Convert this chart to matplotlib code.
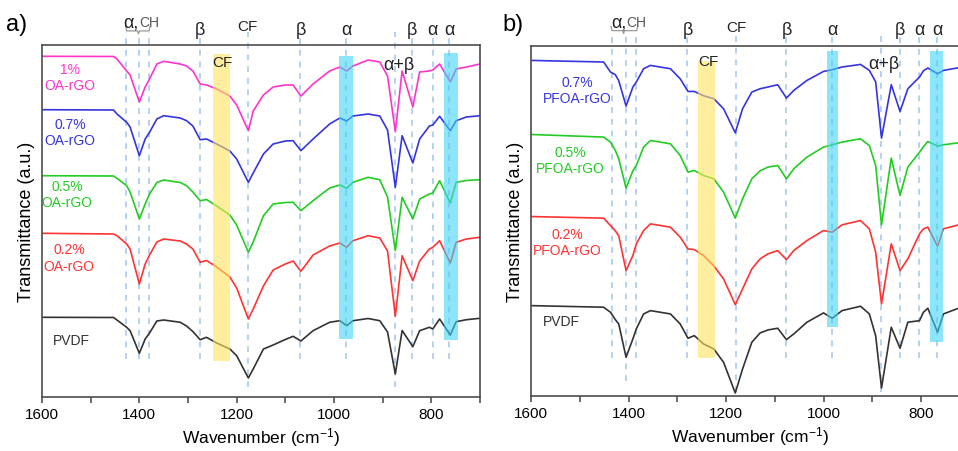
import matplotlib
matplotlib.use("Agg")
import matplotlib.pyplot as plt

plt.rcParams["font.family"] = ["Liberation Sans", "DejaVu Sans"]
plt.rcParams["mathtext.fontset"] = "custom"
plt.rcParams["mathtext.rm"] = "Liberation Sans"
plt.rcParams["mathtext.it"] = "Liberation Sans:italic"

# ---------- DATA (stacked a.u.) ----------
# panel a: PVDF + OA-rGO
WN_A = [1600, 1453, 1446, 1426, 1419, 1400, 1388, 1379, 1364, 1350,
        1316, 1303, 1290, 1275, 1262, 1241, 1214, 1200, 1176, 1166,
        1145, 1125, 1100, 1084, 1068, 1043, 1009, 988, 974, 961,
        930, 906, 890, 874, 860, 838, 824, 804, 797, 783,
        761, 749, 728, 700]
PVDF_A = [7.97, 7.95, 7.70, 6.97, 6.63, 4.37, 5.80, 6.40, 7.60, 7.70,
          7.47, 7.10, 6.55, 5.73, 5.97, 5.40, 4.80, 4.13, 1.90, 2.80,
          4.80, 5.20, 5.75, 6.07, 5.60, 6.63, 7.47, 7.63, 7.13, 7.63,
          7.85, 7.63, 6.50, 2.30, 6.65, 5.03, 6.63, 6.97, 6.80, 7.80,
          6.20, 7.53, 7.73, 7.87]
OA_02 = [16.37, 16.30, 16.13, 15.30, 14.80, 11.30, 13.30, 14.20, 15.50, 15.80,
         15.60, 15.30, 14.80, 13.47, 13.65, 13.00, 12.00, 10.90, 7.80, 8.80,
         11.10, 12.70, 13.30, 13.60, 12.57, 14.20, 15.10, 15.40, 14.97, 15.63,
         16.13, 15.90, 14.60, 8.07, 14.13, 11.63, 13.60, 14.80, 14.97, 15.63,
         13.40, 15.47, 15.80, 15.97]
OA_05 = [22.13, 22.10, 21.87, 21.13, 20.50, 17.80, 19.30, 20.30, 21.45, 21.70,
         21.45, 21.13, 20.50, 19.63, 19.75, 19.10, 18.20, 17.20, 14.47, 15.50,
         18.13, 19.30, 19.45, 19.47, 18.63, 19.63, 20.90, 21.20, 20.87, 21.47,
         21.97, 21.73, 20.00, 14.63, 19.97, 17.80, 19.80, 20.30, 20.40, 21.63,
         19.40, 21.47, 21.65, 21.73]
OA_07 = [28.73, 28.70, 28.30, 27.47, 27.00, 24.13, 25.80, 26.47, 27.80, 28.13,
         27.90, 27.63, 27.10, 25.73, 25.80, 25.30, 24.60, 23.80, 21.47, 22.40,
         24.30, 25.30, 25.60, 25.63, 24.63, 25.80, 27.30, 27.90, 27.60, 28.10,
         28.30, 28.10, 26.70, 20.97, 26.13, 23.40, 25.80, 27.10, 27.20, 28.07,
         26.63, 27.63, 28.00, 28.13]
OA_1 = [34.07, 34.05, 33.80, 32.60, 32.20, 29.50, 31.00, 31.80, 33.30, 33.57,
        33.30, 33.10, 32.60, 31.30, 31.20, 30.80, 30.10, 29.20, 26.63, 28.60,
        30.20, 31.00, 31.20, 31.20, 30.10, 31.30, 32.60, 33.00, 32.60, 33.10,
        33.70, 33.50, 32.10, 26.53, 32.60, 29.00, 32.50, 32.60, 32.70, 33.30,
        31.50, 32.80, 33.00, 33.30]

# panel b: PVDF + PFOA-rGO
WN_B = [1600, 1451, 1437, 1427, 1420, 1405, 1391, 1384, 1369, 1355,
        1314, 1294, 1278, 1265, 1246, 1225, 1205, 1181, 1166, 1147,
        1130, 1114, 1094, 1076, 1061, 1034, 1000, 982, 962, 924,
        906, 893, 881, 861, 843, 827, 803, 795, 786, 766,
        754, 723, 700]
PVDF_B = [9.03, 8.87, 8.37, 7.63, 7.20, 3.87, 5.70, 6.70, 8.20, 8.53,
          8.20, 7.20, 5.77, 6.03, 5.20, 4.70, 3.37, 0.30, 2.70, 5.37,
          6.30, 6.60, 6.77, 5.63, 6.20, 7.37, 8.30, 7.77, 8.53, 8.97,
          8.20, 6.03, 0.80, 6.87, 4.77, 7.37, 7.53, 8.37, 8.77, 6.37,
          8.20, 8.77, 8.90]
PFOA_02 = [17.93, 17.77, 17.03, 16.50, 16.00, 12.53, 14.03, 15.20, 16.53, 17.20,
           16.87, 15.87, 14.70, 14.63, 14.03, 13.00, 11.70, 9.13, 10.70, 12.70,
           13.70, 14.20, 14.53, 13.63, 14.53, 15.53, 16.53, 16.37, 17.10, 17.53,
           16.70, 14.37, 9.20, 15.20, 12.53, 13.70, 16.20, 16.70, 16.87, 14.97,
           16.70, 17.10, 17.20]
PFOA_05 = [26.13, 25.87, 25.37, 24.53, 23.70, 20.77, 22.50, 23.03, 24.87, 25.53,
           25.20, 24.03, 22.37, 22.53, 22.03, 21.70, 20.37, 17.77, 19.70, 21.70,
           22.50, 22.87, 23.03, 21.70, 22.70, 23.87, 24.87, 25.10, 25.37, 25.70,
           25.03, 23.03, 17.10, 23.77, 20.03, 22.87, 24.37, 24.90, 25.43, 24.97,
           25.10, 25.30, 25.35]
PFOA_07 = [33.53, 33.37, 32.37, 32.10, 31.50, 28.97, 30.87, 31.37, 32.70, 33.03,
           32.70, 31.70, 30.43, 30.43, 30.00, 29.70, 28.70, 26.30, 28.70, 30.37,
           30.70, 30.87, 31.10, 29.77, 30.53, 31.53, 32.43, 32.60, 32.87, 33.13,
           32.53, 31.40, 25.77, 31.10, 28.43, 30.70, 31.87, 32.50, 32.77, 32.20,
           32.53, 32.80, 32.85]

# band assignments
DASH_A = [1427, 1400, 1380, 1275, 1177, 1070, 975, 874, 840, 797, 763]
DASH_B = [1433, 1405, 1384, 1279, 1179, 1076, 982, 882, 844, 804, 767]
TOPS_A = [(1275, "β"), (1177, "CF"), (1068, "β"), (975, "α"), (840, "β"), (797, "α"), (763, "α")]
TOPS_B = [(1279, "β"), (1179, "CF"), (1076, "β"), (982, "α"), (844, "β"), (804, "α"), (767, "α")]

CURVE_COLORS = ["#333333", "#ff3333", "#22cc22", "#3535e0", "#ff33cc"]
DASH_COLOR = "#a9c8ee"
YELLOW = "#ffe45c"
CYAN = "#3fd4f5"
# ----------------------------------------------------------------

W, H = 958, 452
fig = plt.figure(figsize=(W / 100, H / 100), dpi=100)


def px_axes(left, top, right, bottom):
    return fig.add_axes([left / W, 1 - bottom / H, (right - left) / W, (bottom - top) / H])


def style_axes(ax, ymax):
    ax.set_xlim(1600, 700)
    ax.set_ylim(0, ymax)
    ax.set_xticks([1600, 1400, 1200, 1000, 800])
    ax.set_xticks([1500, 1300, 1100, 900, 700], minor=True)
    ax.set_yticks([])
    ax.tick_params(axis="x", which="major", direction="out", length=4, width=1.1,
                   color="#444444", labelsize=11, pad=3)
    ax.tick_params(axis="x", which="minor", direction="out", length=4, width=1.1, color="#444444")
    for s in ax.spines.values():
        s.set_color("#4d4d4d")
        s.set_linewidth(1.2)
    ax.set_xlabel(r"Wavenumber (cm$^{-1}$)", fontsize=12.5, labelpad=3)
    ax.set_ylabel("Transmittance (a.u.)", fontsize=13, labelpad=5)


def draw_panel(ax, wn, curves, labels, label_pos, dashes, long_dashes, tops,
               top_y, cf_y, bands, brace, brace_y, ach_x, ach_y, cf_xy, ab_xy):
    xt = ax.get_xaxis_transform()
    for x in dashes:
        y0 = long_dashes.get(x, 0.108)
        ax.plot([x, x], [y0, 1.037], transform=xt, clip_on=False, color=DASH_COLOR,
                lw=1.2, ls=(0, (3.5, 3.5)), zorder=1)
    for ys, c in zip(curves, CURVE_COLORS):
        ax.plot(wn, ys, color=c, lw=1.2, zorder=2)
    for (x0, x1, y0, y1, col) in bands:
        ax.axvspan(x0, x1, ymin=y0, ymax=y1, color=col, alpha=0.6, lw=0, zorder=3)
    for txt, (x, y), c in zip(labels, label_pos, CURVE_COLORS):
        ax.text(x, y, txt, color=c, fontsize=10, ha="center", va="center", zorder=4)
    for x, t in tops:
        ax.text(x, cf_y if t == "CF" else top_y, t, transform=xt, ha="center", va="center",
                fontsize=11 if t == "CF" else 13, color="#222222", clip_on=False)
    ax.text(ach_x, ach_y, "α,", transform=xt, ha="right", va="center", fontsize=13,
            color="#222222", clip_on=False)
    ax.text(ach_x, ach_y, "CH", transform=xt, ha="left", va="center", fontsize=10,
            color="#555555", clip_on=False)
    bl, bm, br = brace
    ax.plot([bl, bl - 2, bm + 2, bm, bm - 2, br + 2, br],
            [brace_y + 0.012, brace_y, brace_y, brace_y - 0.008, brace_y, brace_y, brace_y + 0.012],
            transform=xt, clip_on=False, color="#999999", lw=0.9)
    ax.text(cf_xy[0], cf_xy[1], "CF", fontsize=11, ha="center", va="center", color="#222222", zorder=5)
    ax.text(ab_xy[0], ab_xy[1], "α+β", fontsize=13, ha="center", va="center", color="#222222", zorder=5)


# panel a
ax1 = px_axes(42, 46, 480, 398)
style_axes(ax1, 35.2)
draw_panel(
    ax1, WN_A, [PVDF_A, OA_02, OA_05, OA_07, OA_1],
    ["PVDF", "0.2%\nOA-rGO", "0.5%\nOA-rGO", "0.7%\nOA-rGO", "1%\nOA-rGO"],
    [(1540, 5.7), (1544, 13.95), (1548, 20.33), (1542, 26.5), (1542, 32.0)],
    DASH_A, {1177: 0.028, 874: 0.028}, TOPS_A, 1.045, 1.055,
    [(1249, 1214, 0.102, 0.974, YELLOW), (990, 960, 0.165, 0.969, CYAN),
     (773, 745, 0.162, 0.977, CYAN)],
    (1428, 1402, 1378), 1.040, 1401, 1.066, (1230, 33.5), (867, 33.3))
fig.text(17 / W, 1 - 25 / H, "a)", fontsize=17, ha="center", va="center")

# panel b (right edge runs past the figure, as in the source)
ax2 = px_axes(531, 46.7, 531 + 438.75, 397)
style_axes(ax2, 35.0)
draw_panel(
    ax2, WN_B, [PVDF_B, PFOA_02, PFOA_05, PFOA_07],
    ["PVDF", "0.2%\nPFOA-rGO", "0.5%\nPFOA-rGO", "0.7%\nPFOA-rGO"],
    [(1538, 7.5), (1526, 15.4), (1519, 23.55), (1505, 30.57)],
    DASH_B, {1405: 0.043, 1179: 0.011, 882: 0.011}, TOPS_B, 1.047, 1.053,
    [(1257, 1223, 0.108, 0.956, YELLOW), (993, 970, 0.197, 0.985, CYAN),
     (781, 755, 0.154, 0.985, CYAN)],
    (1436, 1410, 1381), 1.043, 1404, 1.068, (1236, 33.5), (877, 33.2))
fig.text(513 / W, 1 - 25 / H, "b)", fontsize=17, ha="center", va="center")

fig.savefig("out.png", dpi=100)
